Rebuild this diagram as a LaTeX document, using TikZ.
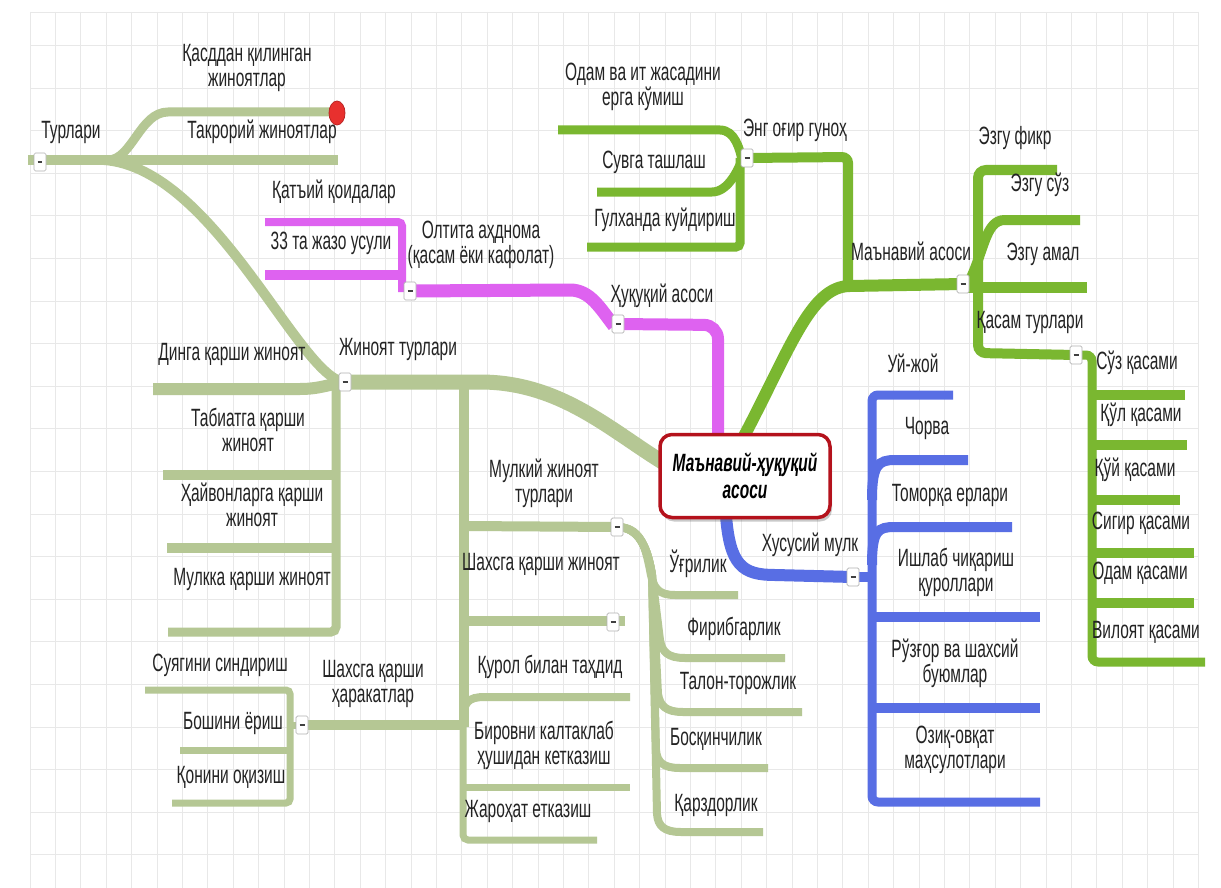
\documentclass[tikz,border=0pt]{standalone}
\usepackage{fontspec}
\setmainfont{Liberation Sans}[FakeStretch=0.62]
\usetikzlibrary{shadows}
\definecolor{olivec}{RGB}{181,199,148}
\definecolor{greenc}{RGB}{122,183,48}
\definecolor{purplec}{RGB}{222,98,240}
\definecolor{bluec}{RGB}{88,110,228}
\definecolor{gridc}{RGB}{232,232,232}
\definecolor{txtc}{RGB}{35,35,35}
\definecolor{redb}{RGB}{180,18,28}
\definecolor{dotc}{RGB}{232,48,46}
\newcommand{\mnsg}{{\color{black!75}\rule[-1pt]{5pt}{2.4pt}}}
\begin{document}
\begin{tikzpicture}[x=1pt,y=-1pt,
  lbl/.style={font=\fontsize{25}{25}\selectfont, text=txtc, align=center, inner sep=0pt},
  mbox/.style={draw=black!30, fill=white, rounded corners=1.5pt, minimum width=12pt, minimum height=18pt, inner sep=0pt, line width=0.7pt},
  oln/.style={draw=olivec, line width=#1}, oln/.default=10pt,
  grn/.style={draw=greenc, line width=#1}, grn/.default=10pt,
  prp/.style={draw=purplec, line width=#1}, prp/.default=10pt,
  blu/.style={draw=bluec, line width=#1}, blu/.default=10pt,
  hub/.style={draw=redb, line width=3.5pt, fill=white, rounded corners=12pt, minimum width=170pt, minimum height=83pt, align=center, inner sep=2pt, font=\fontsize{25}{27}\selectfont\bfseries\itshape, text=black, drop shadow={shadow xshift=2pt, shadow yshift=-4pt, opacity=0.35, fill=black!60}},
]
\useasboundingbox (0,0) rectangle (1221,888);
\fill[white] (0,0) rectangle (1221,888);
% grid
\foreach \i in {0,...,46} {\draw[gridc, line width=0.9pt] ({30+25.4*\i},12) -- ({30+25.4*\i},888);}
\foreach \j in {0,...,19} {\draw[gridc, line width=0.9pt] (30,{45.4+42.6*\j}) -- (1199,{45.4+42.6*\j});}
\draw[gridc, line width=0.9pt] (30,12) -- (1199,12);

% ---------- boxes (positions) ----------
\coordinate (pTur) at (40,162);
\coordinate (pJin) at (345,382);
\coordinate (pHuq) at (618,324);
\coordinate (pOlt) at (410,291);
\coordinate (pEng) at (747,158);
\coordinate (pMan) at (963,284);
\coordinate (pQas) at (1076,355);
\coordinate (pXus) at (853,577);
\coordinate (pMulkiy) at (617,527);
\coordinate (pShJ) at (613,622);
\coordinate (pShH) at (302,725);

% ---------- olive: Турлари ----------
\draw[oln=10pt] (28,160) -- (338,160);
\draw[oln=9pt] (108,160) .. controls (132,160) and (140,112) .. (168,112) -- (333,112);
\draw[oln=10pt] (104,160) .. controls (215,168) and (300,380) .. (pJin);
\filldraw[fill=dotc, draw=dotc!80!black, line width=0.8pt] (337,113) ellipse [x radius=8, y radius=12];

% ---------- olive: Жиноят турлари ----------
\draw[oln=15pt] (pJin) -- (480,382) .. controls (560,382) and (610,430) .. (664,463);
\draw[oln=12pt] (153,389) -- (300,389) .. controls (320,389) and (330,384) .. (pJin);
\draw[oln=9pt, rounded corners=5pt] (336,382) -- (336,632) -- (168,632);
\draw[oln=10pt] (163,475) -- (336,475);
\draw[oln=10pt] (167,548) -- (336,548);
\draw[oln=10pt] (464,382) -- (464,727);
\draw[oln=10pt] (464,526) -- (pMulkiy);
\draw[oln=10pt] (464,621) -- (625,621);
\draw[oln=8pt] (463,722) .. controls (463,702) and (468,697) .. (485,697) -- (630,697);
\draw[oln=7pt, rounded corners=5pt] (463,715) -- (463,840) -- (597,840);
\draw[oln=7pt] (463,787) -- (630,787);
\draw[oln=10pt] (pShH) -- (466,725);
% Шахсга қарши ҳаракатлар children
\draw[oln=7pt, rounded corners=4pt] (145,690) -- (290,690) -- (290,803) -- (172,803);
\draw[oln=7pt] (180,750) -- (290,750);
\draw[oln=7pt] (290,725) -- (pShH);
% Мулкий жиноят fan
\draw[oln=8pt] (pMulkiy) .. controls (640,527) and (645,545) .. (650,570) .. controls (653,588) and (658,595) .. (675,595) -- (738,595);
\draw[oln=8pt] (pMulkiy) .. controls (640,527) and (648,550) .. (652,575) -- (660,640) .. controls (662,652) and (668,658) .. (685,658) -- (785,658);
\draw[oln=8pt] (pMulkiy) .. controls (640,527) and (648,550) .. (652,575) -- (658,694) .. controls (660,706) and (666,712) .. (683,712) -- (802,712);
\draw[oln=8pt] (pMulkiy) .. controls (640,527) and (648,550) .. (652,575) -- (656,750) .. controls (657,762) and (663,768) .. (680,768) -- (768,768);
\draw[oln=8pt] (pMulkiy) .. controls (640,527) and (648,550) .. (652,575) -- (657,814) .. controls (658,826) and (664,832) .. (681,832) -- (763,832);

% ---------- purple ----------
\draw[prp=12pt, rounded corners=14pt] (pHuq) -- (718,325) -- (718,442);
\draw[prp=13pt] (614,326) .. controls (600,308) and (590,290) .. (570,290) -- (pOlt);
\draw[prp=8pt, rounded corners=4pt] (265,222) -- (402,222) -- (402,292);
\draw[prp=10pt] (265,275) -- (402,275);

% ---------- green ----------
\draw[grn=12pt] (742,440) .. controls (790,350) and (810,286) .. (850,286) -- (pMan);
\draw[grn=10pt, rounded corners=6pt] (848,286) -- (848,157) -- (pEng);
\draw[grn=9pt] (558,130) -- (720,130) .. controls (735,130) and (740,150) .. (742,160);
\draw[grn=9pt] (597,192) -- (712,192) .. controls (728,192) and (738,170) .. (742,160);
\draw[grn=9pt, rounded corners=4pt] (587,247) -- (740,247) -- (740,158);
\draw[grn=10pt, rounded corners=8pt] (1057,170) -- (978,170) -- (978,353) -- (pQas);
\draw[grn=10pt] (968,284) .. controls (985,250) and (985,220) .. (1005,220) -- (1080,220);
\draw[grn=11pt] (966,287) -- (1087,287);
\draw[grn=9pt, rounded corners=6pt] (pQas) -- (1092,355) -- (1092,662) -- (1205,662);
\draw[grn=10pt] (1092,395) -- (1185,395);
\draw[grn=10pt] (1092,445) -- (1187,445);
\draw[grn=10pt] (1092,500) -- (1180,500);
\draw[grn=10pt] (1092,553) -- (1194,553);
\draw[grn=10pt] (1092,603) -- (1194,603);

% ---------- blue ----------
\draw[blu=12pt] (726,516) .. controls (730,565) and (742,575) .. (775,575) -- (pXus);
\draw[blu=9pt, rounded corners=6pt] (953,395) -- (872,395) -- (872,802) -- (1040,802);
\draw[blu=10pt] (872,500) .. controls (872,465) and (878,460) .. (895,460) -- (968,460);
\draw[blu=10pt] (872,565) .. controls (872,530) and (878,527) .. (895,527) -- (1012,527);
\draw[blu=10pt] (872,617) -- (1040,617);
\draw[blu=10pt] (872,708) -- (1040,708);
\draw[blu=10pt] (pXus) -- (872,577);

% ---------- minus boxes ----------
\node[mbox] (bTur) at (pTur) {\mnsg};
\node[mbox] (bJin) at (pJin) {\mnsg};
\node[mbox] (bHuq) at (pHuq) {\mnsg};
\node[mbox] (bOlt) at (pOlt) {\mnsg};
\node[mbox] (bEng) at (pEng) {\mnsg};
\node[mbox] (bMan) at (pMan) {\mnsg};
\node[mbox] (bQas) at (pQas) {\mnsg};
\node[mbox] (bXus) at (pXus) {\mnsg};
\node[mbox] (bMulkiy) at (pMulkiy) {\mnsg};
\node[mbox] (bShJ) at (pShJ) {\mnsg};
\node[mbox] (bShH) at (pShH) {\mnsg};

% ---------- labels ----------
\node[lbl] (tTur) at (71,132) {Турлари};
\node[lbl] (tQasd) at (247,68) {Қасддан қилинган\\жиноятлар};
\node[lbl] (tTak) at (262,132) {Такрорий жиноятлар};
\node[lbl] (tQat) at (334,192) {Қатъий қоидалар};
\node[lbl] (t33) at (331,243) {33 та жазо усули};
\node[lbl] (tOlt) at (481,245) {Олтита аҳднома\\(қасам ёки кафолат)};
\node[lbl] (tHuq) at (662,296) {Ҳуқуқий асоси};
\node[lbl] (tOdam) at (643,87) {Одам ва ит жасадини\\ерга кўмиш};
\node[lbl] (tSuv) at (654,162) {Сувга ташлаш};
\node[lbl] (tGul) at (665,220) {Гулханда куйдириш};
\node[lbl] (tEng) at (795,130) {Энг оғир гуноҳ};
\node[lbl] (tMan) at (911,251) {Маънавий асоси};
\node[lbl] (tEf) at (1015,138) {Эзгу фикр};
\node[lbl] (tEs) at (1040,185) {Эзгу сўз};
\node[lbl] (tEa) at (1043,254) {Эзгу амал};
\node[lbl] (tQt) at (1030,322) {Қасам турлари};
\node[lbl] (tS1) at (1137,363) {Сўз қасами};
\node[lbl] (tS2) at (1141,415) {Қўл қасами};
\node[lbl] (tS3) at (1135,470) {Қўй қасами};
\node[lbl] (tS4) at (1141,523) {Сигир қасами};
\node[lbl] (tS5) at (1140,573) {Одам қасами};
\node[lbl] (tS6) at (1146,632) {Вилоят қасами};
\node[lbl] (tUy) at (913,363) {Уй-жой};
\node[lbl] (tCh) at (927,428) {Чорва};
\node[lbl] (tTom) at (950,495) {Томорқа ерлари};
\node[lbl] (tIsh) at (956,572) {Ишлаб чиқариш\\қуроллари};
\node[lbl] (tRuz) at (955,663) {Рўзғор ва шахсий\\буюмлар};
\node[lbl] (tOz) at (955,750) {Озиқ-овқат\\маҳсулотлари};
\node[lbl] (tXus) at (810,545) {Хусусий мулк};
\node[lbl] (tJin) at (398,349) {Жиноят турлари};
\node[lbl] (tDin) at (232,354) {Динга қарши жиноят};
\node[lbl] (tTab) at (248,430) {Табиатга қарши\\жиноят};
\node[lbl] (tHay) at (252,505) {Ҳайвонларга қарши\\жиноят};
\node[lbl] (tMk) at (252,579) {Мулкка қарши жиноят};
\node[lbl] (tMulkiy) at (544,483) {Мулкий жиноят\\турлари};
\node[lbl] (tShJ) at (541,564) {Шахсга қарши жиноят};
\node[lbl] (tQur) at (550,667) {Қурол билан таҳдид};
\node[lbl] (tBir) at (544,745) {Бировни калтаклаб\\ҳушидан кетказиш};
\node[lbl] (tJar) at (528,811) {Жароҳат етказиш};
\node[lbl] (tShH) at (373,684) {Шахсга қарши\\ҳаракатлар};
\node[lbl] (tSuy) at (220,665) {Суягини синдириш};
\node[lbl] (tBosh) at (233,723) {Бошини ёриш};
\node[lbl] (tQon) at (231,777) {Қонини оқизиш};
\node[lbl] (tUg) at (698,564) {Ўғрилик};
\node[lbl] (tFir) at (734,629) {Фирибгарлик};
\node[lbl] (tTal) at (738,683) {Талон-торожлик};
\node[lbl] (tBos) at (716,739) {Босқинчилик};
\node[lbl] (tQarz) at (716,805) {Қарздорлик};

% ---------- central node ----------
\node[hub] (hub) at (745,476) {Маънавий-ҳуқуқий\\асоси};
\end{tikzpicture}
\end{document}
